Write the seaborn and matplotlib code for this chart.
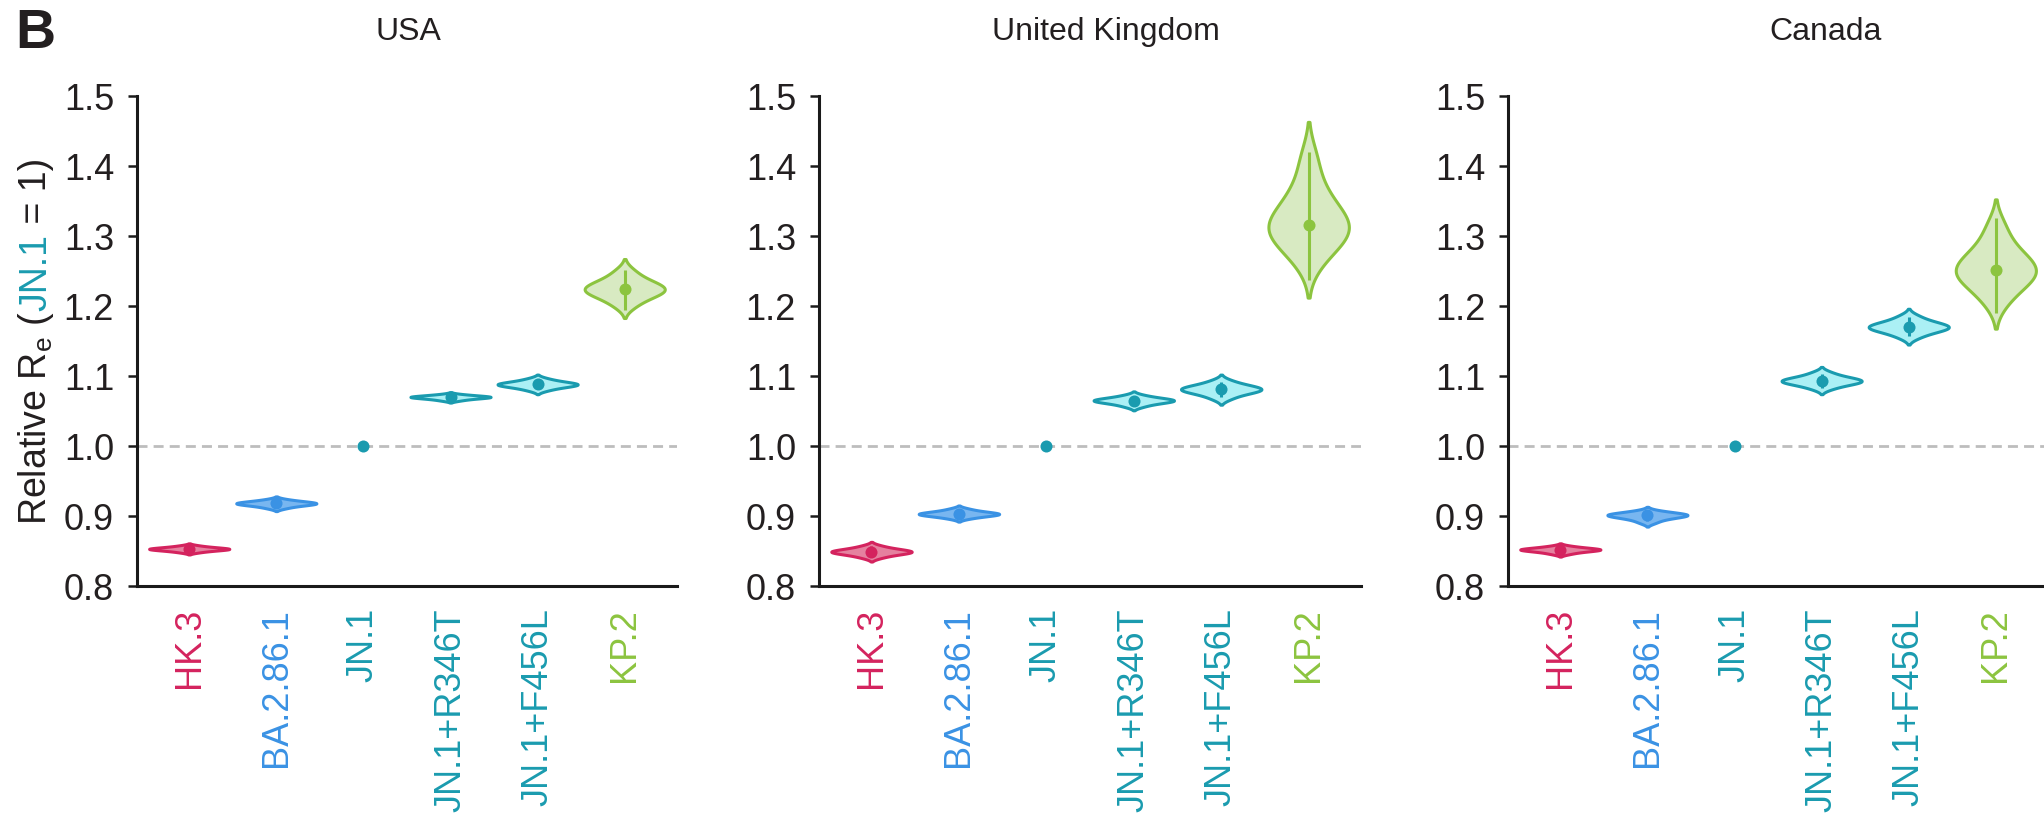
import matplotlib
matplotlib.use("Agg")
import matplotlib.pyplot as plt
import pandas as pd
import seaborn as sns

# ---------------------------------------------------------------- data
variants = ["HK.3", "BA.2.86.1", "JN.1", "JN.1+R346T", "JN.1+F456L", "KP.2"]
countries = ["USA", "United Kingdom", "Canada"]

edge_colors = ["#D4235E", "#3A92E4", "#1A9BAF", "#1A9BAF", "#1A9BAF", "#8CC43F"]
fill_colors = ["#E5819F", "#78B6F0", "#1A9BAF", "#ABF0F5", "#ABF0F5", "#D8EAC2"]

# posterior draws of relative Re (JN.1 is the reference and fixed at 1)
usa_draws = {
    "HK.3":       [0.8483, 0.8502, 0.8512, 0.8520, 0.8525, 0.8530, 0.8535, 0.8540, 0.8548, 0.8558, 0.8577],
    "BA.2.86.1":  [0.9113, 0.9140, 0.9154, 0.9165, 0.9173, 0.9180, 0.9186, 0.9193, 0.9202, 0.9214, 0.9237],
    "JN.1+R346T": [1.0651, 1.0670, 1.0681, 1.0689, 1.0695, 1.0700, 1.0704, 1.0709, 1.0715, 1.0724, 1.0739],
    "JN.1+F456L": [1.0797, 1.0830, 1.0849, 1.0862, 1.0872, 1.0880, 1.0888, 1.0898, 1.0911, 1.0930, 1.0963],
    "KP.2":       [1.2001, 1.2097, 1.2149, 1.2188, 1.2216, 1.2240, 1.2266, 1.2297, 1.2338, 1.2395, 1.2499],
}
uk_draws = {
    "HK.3":       [0.8407, 0.8440, 0.8459, 0.8472, 0.8482, 0.8490, 0.8498, 0.8508, 0.8521, 0.8540, 0.8573],
    "BA.2.86.1":  [0.8967, 0.8992, 0.9006, 0.9016, 0.9024, 0.9030, 0.9037, 0.9046, 0.9058, 0.9074, 0.9103],
    "JN.1+R346T": [1.0565, 1.0599, 1.0618, 1.0631, 1.0642, 1.0650, 1.0657, 1.0666, 1.0678, 1.0695, 1.0725],
    "JN.1+F456L": [1.0678, 1.0731, 1.0760, 1.0781, 1.0797, 1.0810, 1.0822, 1.0837, 1.0856, 1.0883, 1.0932],
    "KP.2":       [1.2638, 1.2847, 1.2962, 1.3045, 1.3108, 1.3160, 1.3255, 1.3369, 1.3522, 1.3731, 1.4112],
}
canada_draws = {
    "HK.3":       [0.8459, 0.8483, 0.8497, 0.8507, 0.8514, 0.8520, 0.8525, 0.8531, 0.8539, 0.8551, 0.8571],
    "BA.2.86.1":  [0.8907, 0.8948, 0.8971, 0.8987, 0.9000, 0.9010, 0.9016, 0.9024, 0.9034, 0.9048, 0.9073],
    "JN.1+R346T": [1.0820, 1.0864, 1.0888, 1.0906, 1.0919, 1.0930, 1.0942, 1.0956, 1.0976, 1.1002, 1.1050],
    "JN.1+F456L": [1.1554, 1.1612, 1.1645, 1.1668, 1.1685, 1.1700, 1.1716, 1.1734, 1.1759, 1.1794, 1.1856],
    "KP.2":       [1.2055, 1.2241, 1.2343, 1.2418, 1.2474, 1.2520, 1.2582, 1.2657, 1.2757, 1.2895, 1.3145],
}

# posterior medians and 95% intervals, in the order of `variants`
usa_median = [0.853, 0.918, 1.000, 1.070, 1.088, 1.224]
usa_low    = [0.849, 0.912, 1.000, 1.066, 1.081, 1.195]
usa_high   = [0.857, 0.923, 1.000, 1.074, 1.095, 1.252]

uk_median = [0.849, 0.903, 1.000, 1.065, 1.081, 1.316]
uk_low    = [0.841, 0.898, 1.000, 1.058, 1.070, 1.237]
uk_high   = [0.857, 0.910, 1.000, 1.072, 1.092, 1.420]

canada_median = [0.852, 0.901, 1.000, 1.093, 1.170, 1.252]
canada_low    = [0.847, 0.893, 1.000, 1.083, 1.157, 1.190]
canada_high   = [0.857, 0.909, 1.000, 1.103, 1.184, 1.326]

y_ticks = [0.8, 0.9, 1.0, 1.1, 1.2, 1.3, 1.4, 1.5]

# ---------------------------------------------------------------- style
sns.set_style("ticks")
plt.rcParams["font.family"] = ["Liberation Sans", "DejaVu Sans"]
plt.rcParams["mathtext.default"] = "regular"
text_color = "#231F20"
ref_color = "#1A9BAF"

fig = plt.figure(figsize=(20.44, 8.22), dpi=100)
ax_lefts = [0.0670, 0.4007, 0.7378]
ax_widths = [0.2642, 0.2652, 0.2642]
title_x = [0.1996, 0.5411, 0.8929]
bottom, height = 0.2871, 0.5961

panels = [
    (usa_draws, usa_median, usa_low, usa_high),
    (uk_draws, uk_median, uk_low, uk_high),
    (canada_draws, canada_median, canada_low, canada_high),
]

axes = []
for k, (country, (draws, med, lo, hi)) in enumerate(zip(countries, panels)):
    ax = fig.add_axes([ax_lefts[k], bottom, ax_widths[k], height])
    axes.append(ax)

    df = pd.DataFrame(
        [(v, x) for v, xs in draws.items() for x in xs],
        columns=["variant", "value"],
    )
    palette = dict(zip(variants, edge_colors))

    ax.axhline(1.0, color="#BDBDBD", lw=2.0, dashes=(3.6, 2.2), zorder=0)

    n_before = len(ax.collections)
    sns.violinplot(
        data=df, x="variant", y="value", hue="variant",
        order=variants, hue_order=variants, palette=palette,
        cut=2, density_norm="width", width=0.92, inner=None,
        linewidth=2.2, saturation=1, legend=False, ax=ax,
    )
    drawn = [v for v in variants if v in draws]
    for coll, v in zip(ax.collections[n_before:], drawn):
        i = variants.index(v)
        coll.set_facecolor(fill_colors[i])
        coll.set_edgecolor(edge_colors[i])
        coll.set_linewidth(2.2)
        coll.set_zorder(2)

    # 95% interval line and median point
    for i, v in enumerate(variants):
        ax.vlines(i, lo[i], hi[i], color=edge_colors[i], lw=2.2, zorder=3)
        ax.scatter([i], [med[i]], s=75, color=edge_colors[i], linewidths=0, zorder=4)

    ax.set_xlim(-0.6, 5.6)
    ax.set_ylim(0.8, 1.5)
    ax.set_yticks(y_ticks)
    ax.set_yticklabels([f"{t:.1f}" for t in y_ticks])
    ax.set_xticks(range(len(variants)))
    ax.set_xticklabels(variants, rotation=90)
    for lbl, c in zip(ax.get_xticklabels(), edge_colors):
        lbl.set_color(c)
    ax.set_xlabel("")
    ax.set_ylabel("")

    sns.despine(ax=ax)
    for side in ("left", "bottom"):
        ax.spines[side].set_linewidth(2.2)
        ax.spines[side].set_color("#1A1A1A")
    ax.tick_params(axis="y", length=6.5, width=1.8, color="#1A1A1A",
                   labelsize=26, labelcolor=text_color, pad=10)
    ax.tick_params(axis="x", length=0, labelsize=26, pad=16)
    fig.text(title_x[k], 0.9513, country, fontsize=23, color=text_color,
             ha="center", va="baseline")

# panel letter
fig.text(0.0073, 0.9416, "B", fontsize=40, fontweight="bold",
         color=text_color, ha="left", va="baseline")

# y label with the reference variant highlighted
lab_kw = dict(rotation=90, rotation_mode="anchor", ha="left", va="baseline",
              fontsize=27)
x0 = 0.0225
t1 = fig.text(x0, 0.35, "Relative R$_e$ (", color=text_color, **lab_kw)
t2 = axes[0].annotate("JN.1", xy=(x0, 1.0), xycoords=("figure fraction", t1),
                      color=ref_color, annotation_clip=False, **lab_kw)
t3 = axes[0].annotate(" = 1)", xy=(x0, 1.0), xycoords=("figure fraction", t2),
                      color=text_color, annotation_clip=False, **lab_kw)
fig.canvas.draw()
r = fig.canvas.get_renderer()
y_lo = t1.get_window_extent(r).y0
y_hi = t3.get_window_extent(r).y1
target = (bottom + height / 2) * fig.bbox.height
t1.set_y(0.35 + (target - (y_lo + y_hi) / 2) / fig.bbox.height)

fig.savefig("out.png", dpi=100)
